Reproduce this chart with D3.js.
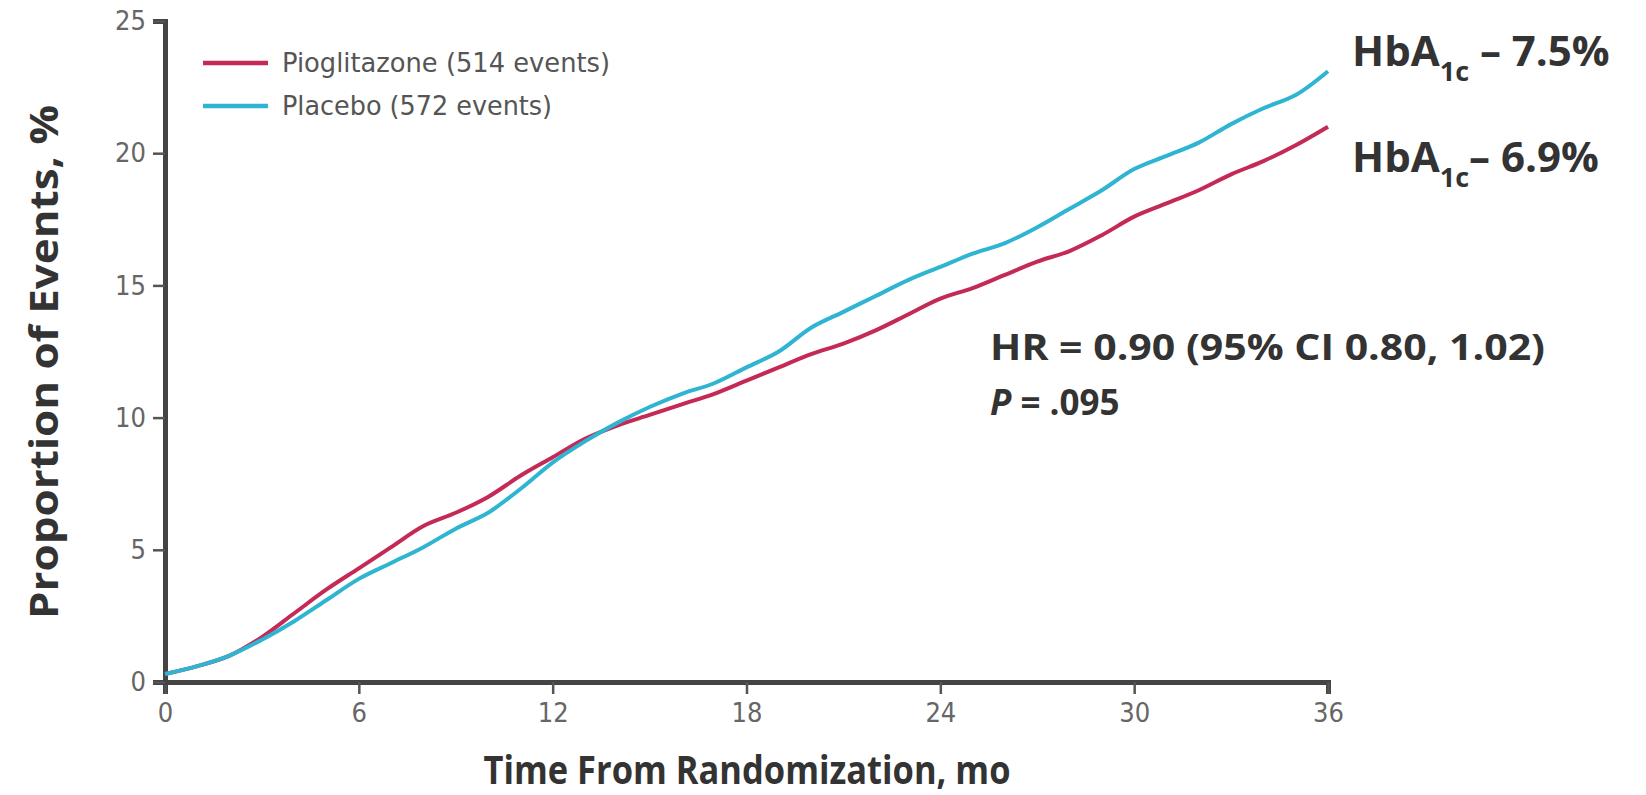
<!DOCTYPE html>
<html>
<head>
<meta charset="utf-8">
<script src="https://cdn.jsdelivr.net/npm/d3@7"></script>
<style>
  body { margin: 0; background: #fff; }
  svg { display: block; }
</style>
</head>
<body>
<svg id="chart"></svg>
<script>
let w = 1646;
let h = 795;

// months from randomization
let months = [0, 1, 2, 3, 4, 5, 6, 7, 8, 9, 10, 11, 12, 13, 14, 15, 16, 17, 18,
  19, 20, 21, 22, 23, 24, 25, 26, 27, 28, 29, 30, 31, 32, 33, 34, 35, 36];
// cumulative proportion of events, %
let pioglitazone = [0.3, 0.6, 1.0, 1.7, 2.6, 3.5, 4.3, 5.1, 5.9, 6.4, 7.0, 7.8, 8.5,
  9.2, 9.7, 10.1, 10.5, 10.9, 11.4, 11.9, 12.4, 12.8, 13.3, 13.9, 14.5, 14.9, 15.4,
  15.9, 16.3, 16.9, 17.6, 18.1, 18.6, 19.2, 19.7, 20.3, 21.0];
let placebo = [0.3, 0.6, 1.0, 1.6, 2.3, 3.1, 3.9, 4.5, 5.1, 5.8, 6.4, 7.3, 8.3,
  9.1, 9.8, 10.4, 10.9, 11.3, 11.9, 12.5, 13.4, 14.0, 14.6, 15.2, 15.7, 16.2, 16.6,
  17.2, 17.9, 18.6, 19.4, 19.9, 20.4, 21.1, 21.7, 22.2, 23.1];

let seriesNames = ["Pioglitazone (514 events)", "Placebo (572 events)"];
let xTicks = [0, 6, 12, 18, 24, 30, 36];
let yTicks = [0, 5, 10, 15, 20, 25];
let colors = ["#c42a55", "#2fb4d2"];

let svg = d3.select("#chart")
  .attr("width", w)
  .attr("height", h);

let xScale = d3.scaleLinear().domain([0, 36]).range([165, 1328]);
let yScale = d3.scaleLinear().domain([0, 25]).range([682, 21]);

// axes
let xAxis = d3.axisBottom(xScale).tickValues(xTicks).tickSize(12).tickPadding(5);
let yAxis = d3.axisLeft(yScale).tickValues(yTicks).tickSize(12).tickPadding(7);

let xAxisGroup = svg.append("g")
  .attr("transform", `translate(0, ${yScale(0)})`)
  .call(xAxis);
let yAxisGroup = svg.append("g")
  .attr("transform", `translate(${xScale(0)}, 0)`)
  .call(yAxis);

[xAxisGroup, yAxisGroup].forEach(g => {
  g.select(".domain").attr("stroke", "#444").attr("stroke-width", 5);
  g.selectAll(".tick line").attr("stroke", "#555").attr("stroke-width", 2.5);
  g.selectAll(".tick text")
    .attr("fill", "#666")
    .attr("font-family", "'DejaVu Sans Condensed', 'Liberation Sans Narrow', sans-serif")
    .attr("font-size", "27px");
});
xAxisGroup.selectAll(".tick text").attr("dy", "0.85em");

// lines
let line = d3.line()
  .x((d, i) => xScale(months[i]))
  .y(d => yScale(d))
  .curve(d3.curveCatmullRom);

let series = [pioglitazone, placebo];
svg.append("g")
  .selectAll("path")
  .data(series)
  .enter()
  .append("path")
    .attr("d", line)
    .attr("fill", "none")
    .attr("stroke", (d, i) => colors[i])
    .attr("stroke-width", 4);

// legend
let legendWidths = [328, 270];
let legend = svg.append("g");
seriesNames.forEach((name, i) => {
  let yy = 63 + i * 43;
  legend.append("line")
    .attr("x1", 203).attr("x2", 268)
    .attr("y1", yy).attr("y2", yy)
    .attr("stroke", colors[i])
    .attr("stroke-width", 4.5);
  legend.append("text")
    .attr("x", 282).attr("y", yy + 9)
    .attr("fill", "#555")
    .attr("font-family", "'DejaVu Sans Condensed', 'Liberation Sans Narrow', sans-serif")
    .attr("font-size", "27px")
    .attr("textLength", legendWidths[i])
    .attr("lengthAdjust", "spacingAndGlyphs")
    .text(name);
});

// axis titles
svg.append("text")
  .attr("transform", `translate(58, 362) rotate(-90)`)
  .attr("text-anchor", "middle")
  .attr("font-family", "'Open Sans', sans-serif")
  .attr("font-weight", "bold")
  .attr("font-size", "40px")
  .attr("fill", "#333")
  .attr("textLength", 514)
  .attr("lengthAdjust", "spacingAndGlyphs")
  .text("Proportion of Events, %");

svg.append("text")
  .attr("x", 747).attr("y", 784)
  .attr("text-anchor", "middle")
  .attr("font-family", "'Open Sans', sans-serif")
  .attr("font-weight", "bold")
  .attr("font-size", "40px")
  .attr("fill", "#333")
  .attr("textLength", 527)
  .attr("lengthAdjust", "spacingAndGlyphs")
  .text("Time From Randomization, mo");

// annotations
let hba = [["7.5%", 66], ["6.9%", 172]];
hba.forEach(([val, yy], i) => {
  let t = svg.append("text")
    .attr("x", 1352).attr("y", yy)
    .attr("font-family", "'Open Sans', sans-serif")
    .attr("font-weight", "bold")
    .attr("font-size", "42px")
    .attr("fill", "#333");
  t.append("tspan").text("HbA");
  t.append("tspan").attr("font-size", "27px").attr("dy", 15).text("1c");
  t.append("tspan").attr("dy", -15).text(i === 0 ? " \u2013 " + val : "\u2013 " + val);
});

let hr = svg.append("g")
  .attr("font-family", "'Open Sans', sans-serif")
  .attr("font-weight", "bold")
  .attr("font-size", "35px")
  .attr("fill", "#333");
hr.append("text")
  .attr("x", 990).attr("y", 360)
  .attr("textLength", 555)
  .attr("lengthAdjust", "spacingAndGlyphs")
  .text("HR = 0.90 (95% CI 0.80, 1.02)");
let p = hr.append("text").attr("x", 990).attr("y", 415);
p.append("tspan").attr("font-style", "italic").text("P");
p.append("tspan").text(" = .095");
</script>
</body>
</html>
